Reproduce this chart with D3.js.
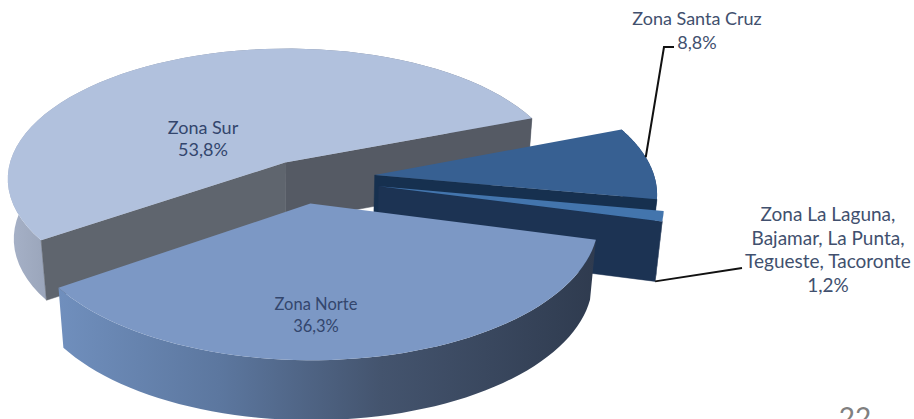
<!DOCTYPE html>
<html>
<head>
<meta charset="utf-8">
<script src="https://d3js.org/d3.v7.min.js"></script>
<style>
  html, body { margin: 0; padding: 0; background: #fff; }
  svg { display: block; }
  text { font-family: Lato, "Open Sans", sans-serif; }
</style>
</head>
<body>
<div id="chart"></div>
<script>
// datos
const zonas = ['Zona Sur', 'Zona Santa Cruz', 'Zona La Laguna, Bajamar, La Punta, Tegueste, Tacoronte', 'Zona Norte'];
const valores = [53.8, 8.8, 1.2, 36.3];
const etiquetas = ['53,8%', '8,8%', '1,2%', '36,3%'];

// geometria de la torta 3D
const width = 914, height = 419;
const cx = 308, cy = 182;
const R = 280, Ry = 132, persp = 0.12;
const depth = 60, narrow = 0.98;
const explode = [0.17, 0.24, 0.25, 0.17];
const nudge = [[-1, 0], [0, -4], [2, -3], [-6, -1]];
const start = 235.3 * Math.PI / 180;

const topColor = ['#b1c1dd', '#376092', '#4375ad', '#7c98c5'];
const faceColor = ['#5f656e', '#16304f', '#1c3353', '#3c4a5e'];
const rimStops = [
  [['0%', '#a7b2c8'], ['12%', '#929db2'], ['100%', '#6e7686']],
  [['0%', '#1e3f6a'], ['100%', '#1e3f6a']],
  [['0%', '#1c3353'], ['100%', '#1c3353']],
  [['0%', '#708fbd'], ['30%', '#5c779f'], ['60%', '#44546e'], ['100%', '#2f3b4f']]
];

const svg = d3.select('#chart').append('svg')
  .attr('width', width)
  .attr('height', height);

const defs = svg.append('defs');
rimStops.forEach((stops, i) => {
  defs.append('linearGradient').attr('id', 'rim' + i)
    .selectAll('stop').data(stops).enter().append('stop')
    .attr('offset', d => d[0])
    .attr('stop-color', d => d[1]);
});

const slices = d3.pie().sort(null).startAngle(start).endAngle(start + 2 * Math.PI)(valores);

// convierte punto de la torta (radio r, angulo t) a pantalla
function punto(d, t, r, abajo) {
  const mid = (d.startAngle + d.endAngle) / 2 - Math.PI / 2;
  const e = explode[d.index];
  const a = t - Math.PI / 2;
  const wx = r * Math.cos(a) + e * Math.cos(mid);
  const wy = r * Math.sin(a) + e * Math.sin(mid);
  const s = 1 / (1 - persp * wy);
  const k = abajo ? narrow : 1;
  return [cx + R * wx * s * k + nudge[d.index][0], cy + Ry * wy * s + (abajo ? depth : 0) + nudge[d.index][1]];
}

const line = d3.line();

function arco(d, abajo) {
  return d3.range(0, 61).map(i => punto(d, d.startAngle + (d.endAngle - d.startAngle) * i / 60, 1, abajo));
}

// la cara de corte solo se ve si la porcion queda por encima del borde
function cara(g, d, t, color) {
  const p0 = punto(d, t, 0, false), p1 = punto(d, t, 1, false);
  const m = punto(d, (d.startAngle + d.endAngle) / 2, 0.5, false);
  const yBorde = p0[1] + (p1[1] - p0[1]) * (m[0] - p0[0]) / (p1[0] - p0[0]);
  if (m[1] > yBorde) return;
  g.append('path')
    .attr('d', line([p0, p1, punto(d, t, 1, true), punto(d, t, 0, true)]) + 'Z')
    .attr('fill', color)
    .attr('stroke', color)
    .attr('stroke-width', 0.5);
}

// orden de pintado: atras hacia adelante
const slice = svg.selectAll('g.slice')
  .data(slices)
  .enter()
  .append('g')
  .attr('class', 'slice')
  .each(function(d, i) {
    const g = d3.select(this);
    g.append('path')
      .attr('d', line(arco(d, false).concat(arco(d, true).reverse())) + 'Z')
      .attr('fill', 'url(#rim' + i + ')');
    cara(g, d, d.endAngle, i == 0 ? '#555a64' : faceColor[i]);
    cara(g, d, d.startAngle, faceColor[i]);
    g.append('path')
      .attr('d', line([punto(d, 0, 0, false)].concat(arco(d, false))) + 'Z')
      .attr('fill', topColor[i]);
  });

// lineas guia
const guia = [
  [punto(slices[1], slices[1].startAngle + (slices[1].endAngle - slices[1].startAngle) * 0.42, 1, false), [664, 47], [674, 47]],
  [punto(slices[2], slices[2].endAngle, 1, true), [742, 268]]
];
svg.selectAll('path.guia')
  .data(guia)
  .enter()
  .append('path')
  .attr('class', 'guia')
  .attr('d', d => line(d))
  .attr('fill', 'none')
  .attr('stroke', '#111')
  .attr('stroke-width', 2);

// textos
const labelLines = [
  [zonas[0], etiquetas[0]],
  [zonas[1], etiquetas[1]],
  ['Zona La Laguna,', 'Bajamar, La Punta,', 'Tegueste, Tacoronte', etiquetas[2]],
  [zonas[3], etiquetas[3]]
];
const labelPos = [[203, 134, 22, 18], [697, 25, 24, 18], [828, 221, 23.7, 19], [316, 310, 22, 16.5]];

svg.selectAll('text.label')
  .data(labelLines)
  .enter()
  .append('text')
  .attr('class', 'label')
  .attr('text-anchor', 'middle')
  .attr('font-size', (d, i) => labelPos[i][3])
  .attr('fill', (d, i) => i == 1 || i == 2 ? '#41506e' : '#33466d')
  .selectAll('tspan')
  .data((d, i) => d.map((t, j) => ({t: t, x: labelPos[i][0], y: labelPos[i][1] + j * labelPos[i][2]})))
  .enter()
  .append('tspan')
  .attr('x', d => d.x)
  .attr('y', d => d.y)
  .text(d => d.t);

// numero de la diapositiva
svg.append('text')
  .attr('x', 855)
  .attr('y', 428)
  .attr('text-anchor', 'middle')
  .attr('font-size', 28)
  .attr('fill', '#808080')
  .text('22');
</script>
</body>
</html>
